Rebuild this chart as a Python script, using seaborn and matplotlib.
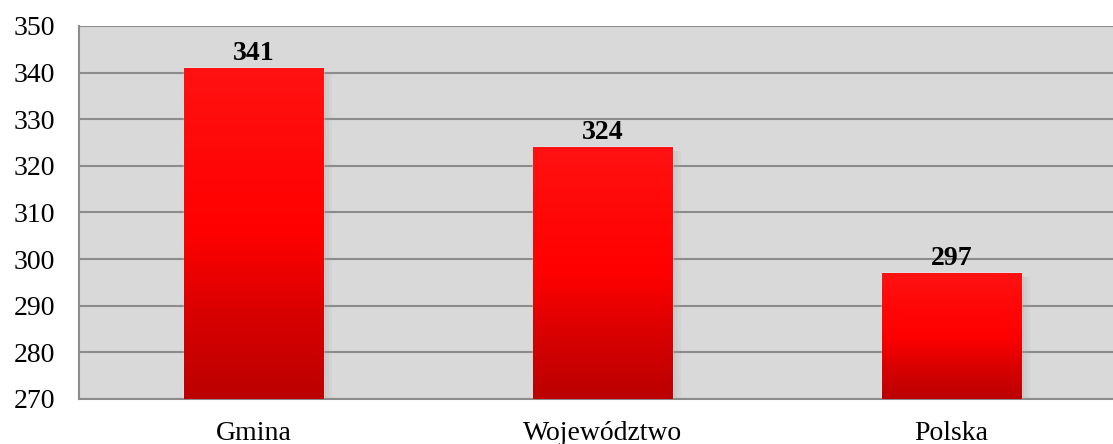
import matplotlib.pyplot as plt
import seaborn as sns
import numpy as np
from matplotlib.colors import LinearSegmentedColormap

# Data
categories = ['Gmina', 'Województwo', 'Polska']
values = [341, 324, 297]

sns.set_style('white')
plt.rcParams['font.family'] = ['Liberation Serif', 'DejaVu Serif']
plt.rcParams['text.color'] = 'black'

fig = plt.figure(figsize=(11.13, 4.44), dpi=100)
ax = fig.add_axes([79 / 1113, 45 / 444, 1047 / 1113, 373 / 444])
ax.set_facecolor('#d9d9d9')

sns.barplot(x=categories, y=values, color='#ff0000', width=0.40, ax=ax, zorder=3)

# vertical red gradient inside each bar
grad = LinearSegmentedColormap.from_list('g', ['#bb0000', '#d80000', '#ff0000', '#ff0808', '#ff1212'])
ramp = np.linspace(0, 1, 256).reshape(-1, 1)
for bar in ax.patches:
    x0, w, h = bar.get_x(), bar.get_width(), bar.get_height()
    # soft shadow to the right
    for i, a in enumerate([0.35, 0.2, 0.1]):
        ax.add_patch(plt.Rectangle((x0 + w + i * 0.008, 270), 0.008, h - 270 - 0.8,
                                   color='#a0a0a0', alpha=a, zorder=2, lw=0))
    im = ax.imshow(ramp, cmap=grad, aspect='auto', origin='lower',
                   extent=[x0, x0 + w, 270, h], zorder=4)
    im.set_clip_path(bar)
ax.set_xlim(-0.5, 2.5)
ax.set_ylim(270, 350)

# value labels
for bar, v in zip(ax.patches, values):
    ax.text(bar.get_x() + bar.get_width() / 2, v + 0.5, str(v), ha='center', va='bottom',
            fontsize=20, fontweight='bold', color='black', zorder=5)

ax.set_yticks(range(270, 351, 10))
ax.yaxis.grid(True, color='#8c8c8c', linewidth=1.5, zorder=0)
ax.set_axisbelow(True)
ax.tick_params(axis='y', length=7, width=1.2, color='#8c8c8c', labelsize=20, pad=10, labelcolor='black')
ax.tick_params(axis='x', length=0, labelsize=20, pad=16, labelcolor='black')
ax.set_xticks(range(len(categories)))
ax.set_xticklabels(categories)
ax.set_xticks([-0.5, 0.5, 1.5, 2.5], minor=True)
ax.tick_params(axis='x', which='minor', length=7, width=1.2, color='#8c8c8c')

for s in ['top', 'right']:
    ax.spines[s].set_visible(False)
for s in ['left', 'bottom']:
    ax.spines[s].set_color('#8c8c8c')
    ax.spines[s].set_linewidth(1.5)

fig.savefig('out.png', dpi=100)
